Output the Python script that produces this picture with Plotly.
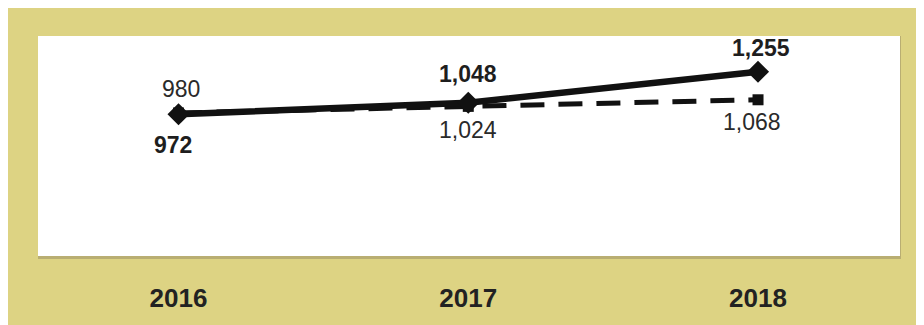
import plotly.graph_objects as go

years = ["2016", "2017", "2018"]
series_solid = [972, 1048, 1255]
series_dashed = [980, 1024, 1068]
solid_labels = ["972", "1,048", "1,255"]
dashed_labels = ["980", "1,024", "1,068"]

# label placement offsets (pixels)
solid_yshift = [-31, 29, 24]
solid_xshift = [-6, 0, 3]
dashed_yshift = [24, -24, -22]
dashed_xshift = [2, 0, -6]

INK = "#111111"
BG = "#ddd383"
FONT = "Liberation Sans, Arial, sans-serif"

fig = go.Figure()
fig.add_trace(go.Scatter(
    x=years, y=series_dashed, mode="lines+markers",
    line=dict(color=INK, width=5, dash="24px,14px"),
    marker=dict(symbol="square", size=11, color=INK),
    hoverinfo="skip", showlegend=False))
fig.add_trace(go.Scatter(
    x=years, y=series_solid, mode="lines+markers",
    line=dict(color=INK, width=6.5),
    marker=dict(symbol="diamond", size=17, color=INK),
    hoverinfo="skip", showlegend=False))

ann = []
for i, yr in enumerate(years):
    # category axis: annotation x given as category index
    ann.append(dict(x=i, y=series_solid[i], xref="x", yref="y",
                    text="<b>" + solid_labels[i] + "</b>", showarrow=False,
                    xshift=solid_xshift[i], yshift=solid_yshift[i], yanchor="middle",
                    font=dict(family=FONT, size=23, color="#1e1e1e")))
    ann.append(dict(x=i, y=series_dashed[i], xref="x", yref="y",
                    text=dashed_labels[i], showarrow=False,
                    xshift=dashed_xshift[i], yshift=dashed_yshift[i], yanchor="middle",
                    font=dict(family=FONT, size=23, color="#2a2a2a")))

# page body has an 8px margin; figure coords = page coords - 8
W, H = 916, 317
L, R, T, B = 30, 24, 28, 61
pw, ph = W - L - R, H - T - B
def px_x(p):
    return (p - L) / pw
def px_y(p):
    return (H - B - p) / ph

shapes = [
    dict(type="rect", xref="paper", yref="paper", layer="below",
         x0=px_x(30), x1=px_x(893), y0=px_y(259), y1=px_y(28),
         fillcolor="#b9ae72", line=dict(width=0)),
    dict(type="rect", xref="paper", yref="paper", layer="below",
         x0=0, x1=1, y0=0, y1=1,
         fillcolor="white", line=dict(width=0)),
]

fig.update_layout(
    width=W, height=H,
    margin=dict(l=L, r=R, t=T, b=B, pad=0),
    paper_bgcolor=BG, plot_bgcolor="white",
    shapes=shapes, annotations=ann,
    xaxis=dict(type="category", range=[-0.485, 2.49], showgrid=False, zeroline=False,
               showline=False, ticks="outside", ticklen=19, tickcolor="rgba(0,0,0,0)",
               tickfont=dict(family=FONT, size=26, color="#222222", weight="bold")),
    yaxis=dict(range=[27, 1493], showgrid=False, zeroline=False, showline=False,
               showticklabels=False, ticks=""),
)

fig.write_html("out.html")
